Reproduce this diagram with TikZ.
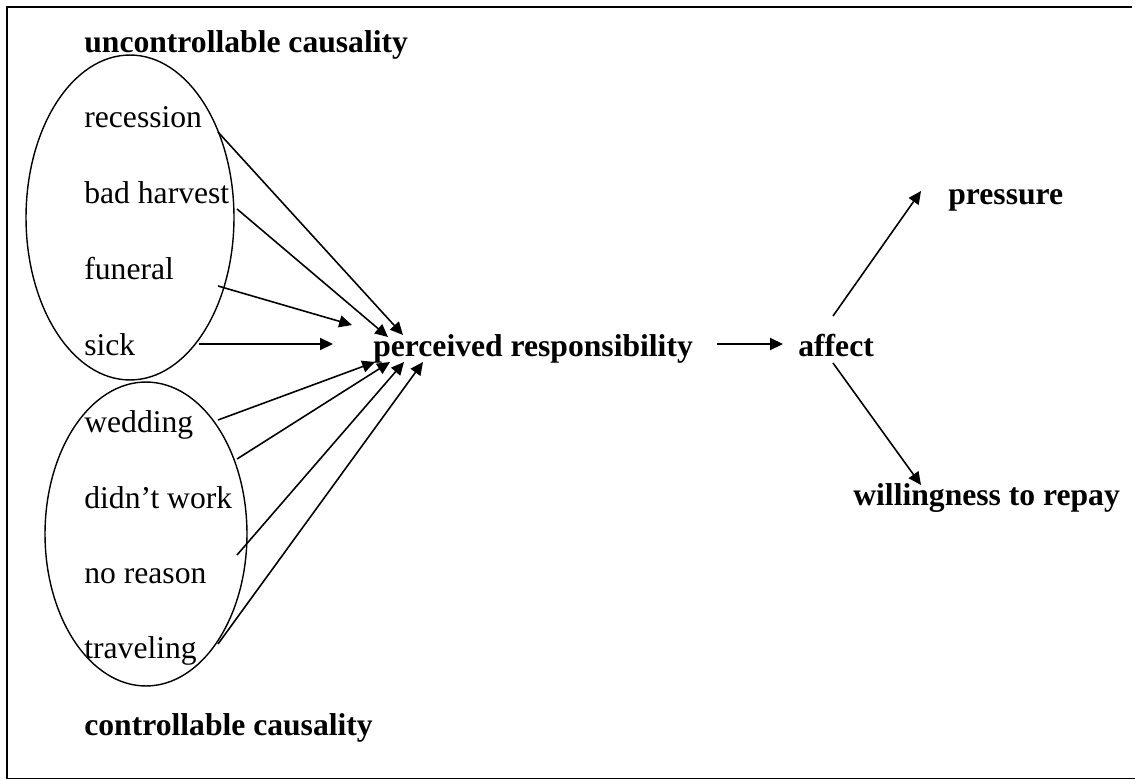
\documentclass[tikz,border=0pt]{standalone}
\usepackage{fontspec}
\setmainfont{Liberation Serif}
\usetikzlibrary{shapes.geometric,arrows.meta}
\begin{document}
\begin{tikzpicture}[x=0.02cm,y=-0.02cm,
  lbl/.style={anchor=base west,inner sep=0pt,font=\fontsize{18}{21.6}\selectfont},
  blbl/.style={anchor=base west,inner sep=0pt,font=\fontsize{18}{21.6}\selectfont\bfseries},
  oval/.style={draw,ellipse,inner sep=0pt,line width=0.8pt},
  arr/.style={line width=0.9pt,-{Triangle[length=7.3pt,width=6.8pt]}}]
\useasboundingbox (0,0) rectangle (1135,780);
\draw[line width=1.1pt] (1132,7) -- (7,7) -- (7,778.5) -- (1136,778.5);

% ellipses
\node[oval,minimum width=4.16cm,minimum height=6.5cm] (upper) at (130,217.5) {};
\node[oval,minimum width=4.04cm,minimum height=6.08cm] (lower) at (146,534) {};

% labels
\node[blbl] (unc) at (84,53) {uncontrollable causality};
\node[lbl] (recession) at (84,128) {recession};
\node[lbl] (harvest) at (84,204) {bad harvest};
\node[lbl] (funeral) at (84,280) {funeral};
\node[lbl] (sick) at (84,356) {sick};
\node[lbl] (wedding) at (84,432) {wedding};
\node[lbl] (work) at (84,508) {didn’t work};
\node[lbl] (reason) at (84,583) {no reason};
\node[lbl] (travel) at (84,658) {traveling};
\node[blbl] (con) at (84,735) {controllable causality};
\node[blbl] (resp) at (373,357) {perceived responsibility};
\node[blbl] (affect) at (798,357) {affect};
\node[blbl] (pressure) at (948,205) {pressure};
\node[blbl] (will) at (853,505) {willingness to repay};

% connector ends
\coordinate (s1) at (218,132); \coordinate (e1) at (403,335);
\coordinate (s2) at (237,209); \coordinate (e2) at (388,337);
\coordinate (s3) at (218,286); \coordinate (e3) at (352,325);
\coordinate (s4) at (199,344); \coordinate (e4) at (333,344);
\coordinate (s5) at (218,420); \coordinate (e5) at (375,362);
\coordinate (s6) at (237,459); \coordinate (e6) at (390,362);
\coordinate (s7) at (237,555); \coordinate (e7) at (404,362);
\coordinate (s8) at (218,644); \coordinate (e8) at (423,362);
\coordinate (r1) at (717,344); \coordinate (a1) at (783,344);
\coordinate (a2) at (833,316); \coordinate (p1) at (921,191);
\coordinate (a3) at (833,363); \coordinate (w1) at (921,485);

\foreach \i in {1,...,8} \draw[arr] (s\i) -- (e\i);
\draw[arr] (r1) -- (a1);
\draw[arr] (a2) -- (p1);
\draw[arr] (a3) -- (w1);
\end{tikzpicture}
\end{document}
